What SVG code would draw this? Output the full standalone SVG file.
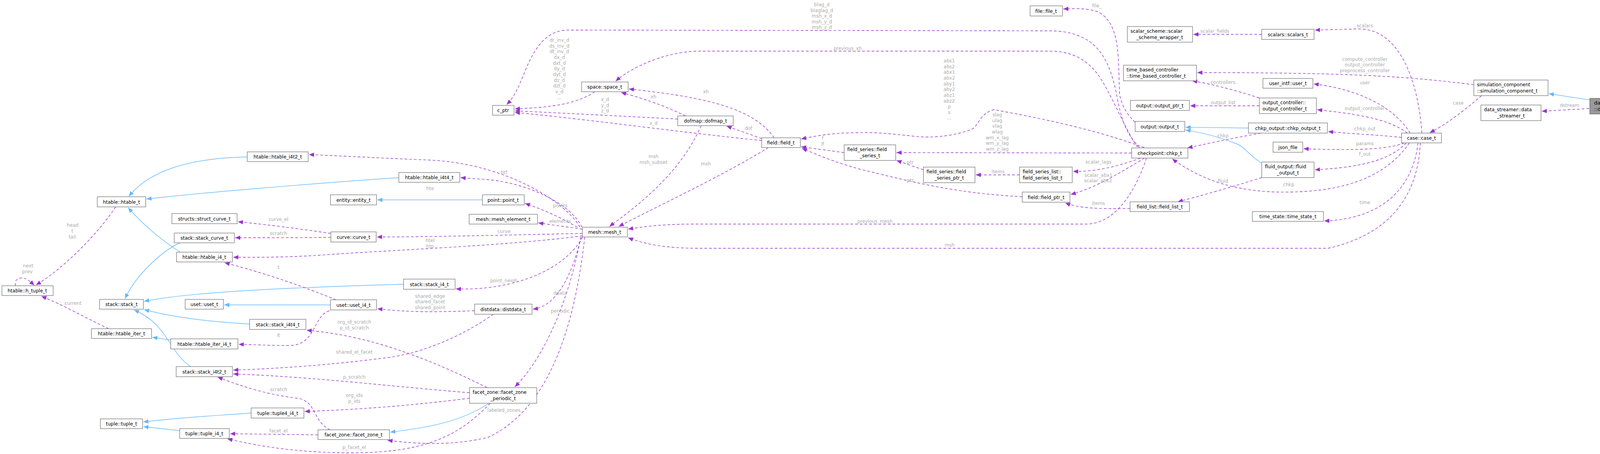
<svg xmlns="http://www.w3.org/2000/svg" width="4280" height="1163" viewBox="0 0 4280 1163">
<style>
.n rect{fill:#fff;stroke:#777;stroke-width:1.3}
.n text{font-family:"DejaVu Sans",sans-serif;font-size:12px;fill:#000;text-anchor:middle}
.n text.s{text-anchor:start}
.hl rect{fill:#999;stroke:#666}
.u{fill:none;stroke:#9a32cd;stroke-width:1.4;stroke-dasharray:7,5;marker-end:url(#pa)}
.i{fill:none;stroke:#63b8ff;stroke-width:1.4;marker-end:url(#ba)}
.l{font-family:"DejaVu Sans",sans-serif;font-size:12px;fill:#aaa;text-anchor:middle}
</style>
<defs>
<marker id="pa" markerUnits="userSpaceOnUse" markerWidth="14" markerHeight="11" refX="13" refY="5.5" orient="auto"><path d="M0,0 L13,5.5 L0,11 z" fill="#9a32cd"/></marker>
<marker id="ba" markerUnits="userSpaceOnUse" markerWidth="14" markerHeight="11" refX="13" refY="5.5" orient="auto"><path d="M0,0 L13,5.5 L0,11 z" fill="#63b8ff"/></marker>
</defs>
<rect width="4280" height="1163" fill="#fff"/>
<g id="edges">
<path class="i" d="M633,402 C480,405 380,440 330,503"/>
<path class="i" d="M1021,455 C800,470 500,495 375,510"/>
<path class="i" d="M462,646 C420,620 370,580 328,532"/>
<path class="i" d="M1235,512 L966,512"/>
<path class="i" d="M461,622 C420,640 350,700 320,765"/>
<path class="i" d="M1033,728 C800,735 500,745 369,772"/>
<path class="i" d="M639,830 C550,825 450,815 369,793"/>
<path class="i" d="M488,939 C430,900 430,830 343,794"/>
<path class="i" d="M846,781 L574,781"/>
<path class="i" d="M437,871 L390,864"/>
<path class="i" d="M643,1058 C550,1065 450,1070 367,1081"/>
<path class="i" d="M460,1103 L367,1093"/>
<path class="i" d="M1252,1033 C1180,1080 1100,1095 999,1107"/>
<path class="i" d="M3196,328 L3035,326"/>
<path class="i" d="M3230,418 C3200,400 3190,380 3170,370 C3120,350 3080,340 3035,333"/>
<path class="i" d="M4070,256 L3965,240"/>
<path class="u" d="M40,732 C36,720 44,712 55,712 C68,712 74,718 88,731"/>
<path class="u" d="M296,530 C250,600 160,690 92,730"/>
<path class="u" d="M278,842 C220,815 160,780 106,759"/>
<path class="u" d="M1485,582 C1450,520 1300,420 1100,410 C950,404 850,398 791,396"/>
<path class="u" d="M1490,582 C1460,520 1350,470 1250,460 C1220,458 1200,457 1179,455"/>
<path class="u" d="M1478,582 C1440,560 1400,540 1344,521"/>
<path class="u" d="M1491,587 L1378,571"/>
<path class="u" d="M1491,598 C1300,602 1100,607 965,607"/>
<path class="u" d="M1491,604 C1300,630 1000,640 800,655 C700,660 650,659 597,659"/>
<path class="u" d="M847,598 C760,585 680,575 609,568"/>
<path class="u" d="M847,608 C760,609 680,609 602,609"/>
<path class="u" d="M860,768 C780,735 680,700 575,673"/>
<path class="u" d="M843,796 C800,810 810,885 740,885 C690,885 650,883 611,882"/>
<path class="u" d="M1492,607 C1440,700 1300,745 1167,740"/>
<path class="u" d="M1215,796 C1100,800 1050,800 966,791"/>
<path class="u" d="M1488,607 C1460,720 1420,785 1364,792"/>
<path class="u" d="M1263,805 C1200,850 1100,900 1000,915 C850,935 700,945 597,948"/>
<path class="u" d="M1247,993 C1100,920 950,860 785,846"/>
<path class="u" d="M1202,1006 C1000,990 800,965 597,958"/>
<path class="u" d="M845,1101 C800,1080 810,1025 760,1020 C680,1010 620,990 557,966"/>
<path class="u" d="M1202,1020 C1050,1040 900,1050 780,1054"/>
<path class="u" d="M814,1114 L589,1111"/>
<path class="u" d="M1255,1033 C1180,1110 1100,1160 900,1160 C750,1160 650,1140 582,1124"/>
<path class="u" d="M1487,607 C1450,800 1380,930 1318,991"/>
<path class="u" d="M1497,607 C1470,850 1400,1050 1250,1120 C1150,1145 1050,1135 992,1128"/>
<path class="u" d="M1523,235 C1470,270 1400,275 1318,279"/>
<path class="u" d="M1735,305 C1600,298 1450,290 1318,284"/>
<path class="u" d="M1950,360 C1750,340 1500,305 1318,288"/>
<path class="u" d="M2917,378 C2880,340 2870,300 2860,250 C2840,140 2800,80 2688,79 L1460,77 C1400,75 1370,120 1345,180 C1325,230 1315,250 1297,268"/>
<path class="u" d="M1755,297 C1700,270 1640,250 1590,237"/>
<path class="u" d="M1982,353 C1930,280 1820,250 1610,228"/>
<path class="u" d="M1950,355 L1860,323"/>
<path class="u" d="M2912,377 C2880,330 2840,230 2810,190 C2780,150 2740,131 2688,131 L1782,131 C1700,135 1620,170 1576,208"/>
<path class="u" d="M1795,322 C1760,400 1700,480 1560,580"/>
<path class="u" d="M1967,378 C1850,450 1700,520 1584,580"/>
<path class="u" d="M2161,391 L2051,376"/>
<path class="u" d="M2617,504 C2450,495 2350,470 2200,433 C2120,410 2090,395 2053,380"/>
<path class="u" d="M2929,378 C2800,330 2650,300 2544,281 C2510,290 2505,320 2490,330 C2440,350 2380,355 2332,348 C2280,343 2240,338 2200,340 C2130,340 2090,348 2051,356"/>
<path class="u" d="M2364,435 L2295,411"/>
<path class="u" d="M2897,392 L2295,391"/>
<path class="u" d="M2610,448 L2498,448"/>
<path class="u" d="M2920,405 C2850,430 2800,440 2747,439"/>
<path class="u" d="M2930,405 C2870,440 2810,480 2741,498"/>
<path class="u" d="M2893,534 C2800,536 2760,532 2727,520"/>
<path class="u" d="M2935,405 C2910,480 2860,574 2780,574 L1780,574 C1700,574 1650,580 1608,587"/>
<path class="u" d="M2906,313 C2890,300 2870,270 2866,240 C2862,150 2870,60 2810,30 C2780,20 2750,22 2722,23"/>
<path class="u" d="M3230,88 L3055,88"/>
<path class="u" d="M3773,217 C3600,195 3450,186 3065,186"/>
<path class="u" d="M3224,251 C3160,230 3100,215 3052,207"/>
<path class="u" d="M3224,271 L3047,271"/>
<path class="u" d="M3228,341 C3150,355 3080,370 3040,379"/>
<path class="u" d="M3230,455 C3150,480 3080,500 3015,517"/>
<path class="u" d="M3640,341 C3630,200 3580,75 3480,74 L3366,77"/>
<path class="u" d="M3610,341 C3560,260 3450,225 3363,215"/>
<path class="u" d="M3603,341 C3550,300 3450,290 3372,281"/>
<path class="u" d="M3588,352 C3520,345 3450,342 3400,337"/>
<path class="u" d="M3595,366 C3550,385 3450,385 3337,381"/>
<path class="u" d="M3600,366 C3550,420 3450,430 3366,435"/>
<path class="u" d="M3608,366 C3550,450 3450,490 3300,492 C3150,495 3060,450 3001,407"/>
<path class="u" d="M3630,366 C3620,460 3560,560 3390,566"/>
<path class="u" d="M3636,366 C3630,500 3560,600 3400,636 L1790,636 C1700,636 1650,625 1608,609"/>
<path class="u" d="M3793,245 C3740,290 3700,320 3660,340"/>
<path class="u" d="M4068,278 L3947,285"/>
</g>
<g id="labels">
<text class="l" x="72" y="685">next</text><text class="l" x="70" y="700">prev</text>
<text class="l" x="186" y="581">head</text><text class="l" x="185" y="596">t</text><text class="l" x="185" y="611">tail</text>
<text class="l" x="187" y="781">current</text>
<text class="l" x="1101" y="487">hte</text>
<text class="l" x="1290" y="446">htf</text>
<text class="l" x="1434" y="531">points</text>
<text class="l" x="1434" y="571">elements</text>
<text class="l" x="1290" y="597">curve</text>
<text class="l" x="1101" y="620">htel</text><text class="l" x="1101" y="635">htp</text>
<text class="l" x="713" y="566">curve_el</text>
<text class="l" x="713" y="602">scratch</text>
<text class="l" x="713" y="689">t</text>
<text class="l" x="713" y="863">it</text>
<text class="l" x="1290" y="723">point_neigh</text>
<text class="l" x="1101" y="763">shared_edge</text><text class="l" x="1101" y="777">shared_facet</text><text class="l" x="1101" y="792">shared_point</text>
<text class="l" x="1434" y="755">ddata</text>
<text class="l" x="1434" y="801">periodic</text>
<text class="l" x="907" y="906">shared_el_facet</text>
<text class="l" x="907" y="829">org_id_scratch</text><text class="l" x="907" y="844">p_id_scratch</text>
<text class="l" x="907" y="970">p_scratch</text>
<text class="l" x="713" y="1002">scratch</text>
<text class="l" x="907" y="1017">org_ids</text><text class="l" x="907" y="1032">p_ids</text>
<text class="l" x="713" y="1108">facet_el</text>
<text class="l" x="907" y="1150">p_facet_el</text>
<text class="l" x="1290" y="1055">labeled_zones</text>
<g><text class="l" x="1432" y="107">dr_inv_d</text><text class="l" x="1432" y="122">ds_inv_d</text><text class="l" x="1432" y="136">dt_inv_d</text><text class="l" x="1432" y="151">dx_d</text><text class="l" x="1432" y="166">dxt_d</text><text class="l" x="1432" y="180">dy_d</text><text class="l" x="1432" y="195">dyt_d</text><text class="l" x="1432" y="210">dz_d</text><text class="l" x="1432" y="224">dzt_d</text><text class="l" x="1432" y="239">v_d</text><text class="l" x="1432" y="254">...</text></g>
<text class="l" x="1549" y="259">x_d</text><text class="l" x="1549" y="274">y_d</text><text class="l" x="1549" y="288">z_d</text>
<text class="l" x="1673" y="320">x_d</text>
<text class="l" x="1673" y="252">xh</text>
<text class="l" x="1807" y="239">xh</text>
<text class="l" x="1916" y="333">dof</text>
<text class="l" x="1673" y="405">msh</text><text class="l" x="1673" y="420">msh_subset</text>
<text class="l" x="1807" y="424">msh</text>
<text class="l" x="2104" y="16">blag_d</text><text class="l" x="2104" y="31">blaglag_d</text><text class="l" x="2104" y="45">msh_x_d</text><text class="l" x="2104" y="60">msh_y_d</text><text class="l" x="2104" y="74">msh_z_d</text>
<text class="l" x="2170" y="128">previous_xh</text>
<g><text class="l" x="2430" y="160">abs1</text><text class="l" x="2430" y="175">abs2</text><text class="l" x="2430" y="189">abx1</text><text class="l" x="2430" y="204">abx2</text><text class="l" x="2430" y="219">aby1</text><text class="l" x="2430" y="233">aby2</text><text class="l" x="2430" y="248">abz1</text><text class="l" x="2430" y="263">abz2</text><text class="l" x="2430" y="277">p</text><text class="l" x="2430" y="292">s</text><text class="l" x="2430" y="306">...</text></g>
<g><text class="l" x="2553" y="298">slag</text><text class="l" x="2553" y="313">ulag</text><text class="l" x="2553" y="327">vlag</text><text class="l" x="2553" y="342">wlag</text><text class="l" x="2553" y="357">wm_x_lag</text><text class="l" x="2553" y="371">wm_y_lag</text><text class="l" x="2553" y="386">wm_z_lag</text></g>
<text class="l" x="2106" y="358">f</text><text class="l" x="2106" y="373">lf</text>
<text class="l" x="2330" y="420">ptr</text>
<text class="l" x="2330" y="466">ptr</text>
<text class="l" x="2555" y="444">items</text>
<text class="l" x="2812" y="419">scalar_lags</text>
<text class="l" x="2812" y="453">scalar_abx1</text><text class="l" x="2811" y="467">scalar_abx2</text>
<text class="l" x="2812" y="525">items</text>
<text class="l" x="2240" y="571">previous_mesh</text>
<text class="l" x="2431" y="632">msh</text>
<text class="l" x="2808" y="19">file_</text>
<text class="l" x="3110" y="84">scalar_fields</text>
<text class="l" x="3131" y="215">controllers</text>
<text class="l" x="3131" y="267">output_list</text>
<text class="l" x="3131" y="352">chkp</text>
<text class="l" x="3131" y="468">fluid</text>
<text class="l" x="3494" y="70">scalars</text>
<text class="l" x="3494" y="156">compute_controller</text><text class="l" x="3494" y="170">output_controller</text><text class="l" x="3494" y="185">preprocess_controller</text>
<text class="l" x="3494" y="216">user</text>
<text class="l" x="3494" y="282">output_controller</text>
<text class="l" x="3494" y="334">chkp_out</text>
<text class="l" x="3494" y="372">params</text>
<text class="l" x="3494" y="399">f_out</text>
<text class="l" x="3299" y="477">chkp</text>
<text class="l" x="3494" y="523">time</text>
<text class="l" x="3733" y="268">case</text>
<text class="l" x="4018" y="274">dstream</text>
</g>
<g id="n_h_tuple" class="n"><rect x="5" y="732" width="131" height="25"/><text x="70" y="749">htable::h_tuple_t</text></g>
<g id="n_htable" class="n"><rect x="249" y="504" width="124" height="26"/><text x="311" y="522">htable::htable_t</text></g>
<g id="n_htable_i4t2" class="n"><rect x="633" y="389" width="156" height="25"/><text x="711" y="406">htable::htable_i4t2_t</text></g>
<g id="n_htable_i4t4" class="n"><rect x="1021" y="442" width="156" height="25"/><text x="1099" y="459">htable::htable_i4t4_t</text></g>
<g id="n_htable_i4" class="n"><rect x="452" y="646" width="143" height="25"/><text x="523" y="663">htable::htable_i4_t</text></g>
<g id="n_struct_curve" class="n"><rect x="440" y="547" width="167" height="26"/><text x="523" y="565">structs::struct_curve_t</text></g>
<g id="n_stack_curve" class="n"><rect x="446" y="597" width="154" height="25"/><text x="523" y="614">stack::stack_curve_t</text></g>
<g id="n_entity" class="n"><rect x="846" y="499" width="118" height="26"/><text x="905" y="517">entity::entity_t</text></g>
<g id="n_point" class="n"><rect x="1235" y="499" width="107" height="26"/><text x="1288" y="517">point::point_t</text></g>
<g id="n_mesh_element" class="n"><rect x="1201" y="549" width="175" height="25"/><text x="1288" y="566">mesh::mesh_element_t</text></g>
<g id="n_curve" class="n"><rect x="847" y="594" width="116" height="26"/><text x="905" y="612">curve::curve_t</text></g>
<g id="n_mesh" class="n"><rect x="1491" y="582" width="115" height="25"/><text x="1548" y="599">mesh::mesh_t</text></g>
<g id="n_stack" class="n"><rect x="255" y="767" width="112" height="25"/><text x="311" y="784">stack::stack_t</text></g>
<g id="n_uset" class="n"><rect x="474" y="767" width="98" height="25"/><text x="523" y="784">uset::uset_t</text></g>
<g id="n_stack_i4" class="n"><rect x="1033" y="715" width="132" height="26"/><text x="1099" y="733">stack::stack_i4_t</text></g>
<g id="n_uset_i4" class="n"><rect x="846" y="768" width="118" height="26"/><text x="905" y="786">uset::uset_i4_t</text></g>
<g id="n_distdata" class="n"><rect x="1215" y="779" width="147" height="26"/><text x="1288" y="797">distdata::distdata_t</text></g>
<g id="n_stack_i4t4" class="n"><rect x="639" y="818" width="144" height="26"/><text x="711" y="836">stack::stack_i4t4_t</text></g>
<g id="n_htable_iter" class="n"><rect x="234" y="842" width="154" height="25"/><text x="311" y="859">htable::htable_iter_t</text></g>
<g id="n_htable_iter_i4" class="n"><rect x="437" y="868" width="172" height="26"/><text x="523" y="886">htable::htable_iter_i4_t</text></g>
<g id="n_stack_i4t2" class="n"><rect x="451" y="939" width="144" height="26"/><text x="523" y="957">stack::stack_i4t2_t</text></g>
<g id="n_fzp" class="n"><rect x="1202" y="993" width="172" height="40"/><text class="s" x="1210" y="1009">facet_zone::facet_zone</text><text x="1288" y="1025">_periodic_t</text></g>
<g id="n_tuple4_i4" class="n"><rect x="643" y="1045" width="135" height="26"/><text x="711" y="1063">tuple::tuple4_i4_t</text></g>
<g id="n_tuple" class="n"><rect x="257" y="1073" width="108" height="25"/><text x="311" y="1090">tuple::tuple_t</text></g>
<g id="n_tuple_i4" class="n"><rect x="460" y="1098" width="127" height="25"/><text x="523" y="1115">tuple::tuple_i4_t</text></g>
<g id="n_facet_zone" class="n"><rect x="814" y="1101" width="183" height="25"/><text x="905" y="1118">facet_zone::facet_zone_t</text></g>
<g id="n_c_ptr" class="n"><rect x="1261" y="270" width="55" height="25"/><text x="1288" y="287">c_ptr</text></g>
<g id="n_space" class="n"><rect x="1489" y="210" width="119" height="25"/><text x="1548" y="227">space::space_t</text></g>
<g id="n_dofmap" class="n"><rect x="1735" y="297" width="142" height="25"/><text x="1806" y="314">dofmap::dofmap_t</text></g>
<g id="n_field" class="n"><rect x="1950" y="353" width="99" height="25"/><text x="1999" y="370">field::field_t</text></g>
<g id="n_field_series" class="n"><rect x="2161" y="371" width="132" height="40"/><text class="s" x="2169" y="387">field_series::field</text><text x="2227" y="403">_series_t</text></g>
<g id="n_field_series_ptr" class="n"><rect x="2364" y="428" width="132" height="40"/><text class="s" x="2372" y="444">field_series::field</text><text x="2430" y="460">_series_ptr_t</text></g>
<g id="n_field_series_list" class="n"><rect x="2610" y="428" width="135" height="40"/><text class="s" x="2618" y="444">field_series_list::</text><text class="s" x="2618" y="460">field_series_list_t</text></g>
<g id="n_field_ptr" class="n"><rect x="2617" y="492" width="122" height="26"/><text x="2678" y="510">field::field_ptr_t</text></g>
<g id="n_file" class="n"><rect x="2637" y="15" width="83" height="26"/><text x="2678" y="33">file::file_t</text></g>
<g id="n_chkp" class="n"><rect x="2897" y="379" width="144" height="26"/><text x="2969" y="397">checkpoint::chkp_t</text></g>
<g id="n_field_list" class="n"><rect x="2893" y="517" width="152" height="25"/><text x="2969" y="534">field_list::field_list_t</text></g>
<g id="n_output" class="n"><rect x="2906" y="311" width="127" height="26"/><text x="2969" y="329">output::output_t</text></g>
<g id="n_output_ptr" class="n"><rect x="2894" y="257" width="151" height="26"/><text x="2969" y="275">output::output_ptr_t</text></g>
<g id="n_tbc" class="n"><rect x="2876" y="167" width="187" height="40"/><text class="s" x="2884" y="183">time_based_controller</text><text class="s" x="2884" y="199">::time_based_controller_t</text></g>
<g id="n_ssw" class="n"><rect x="2886" y="68" width="167" height="40"/><text class="s" x="2894" y="84">scalar_scheme::scalar</text><text x="2969" y="100">_scheme_wrapper_t</text></g>
<g id="n_scalars" class="n"><rect x="3230" y="75" width="134" height="26"/><text x="3297" y="93">scalars::scalars_t</text></g>
<g id="n_user" class="n"><rect x="3233" y="201" width="128" height="25"/><text x="3297" y="218">user_intf::user_t</text></g>
<g id="n_output_controller" class="n"><rect x="3224" y="251" width="146" height="40"/><text class="s" x="3232" y="267">output_controller::</text><text class="s" x="3232" y="283">output_controller_t</text></g>
<g id="n_chkp_output" class="n"><rect x="3196" y="315" width="202" height="26"/><text x="3297" y="333">chkp_output::chkp_output_t</text></g>
<g id="n_json_file" class="n"><rect x="3259" y="364" width="76" height="26"/><text x="3297" y="382">json_file</text></g>
<g id="n_fluid_output" class="n"><rect x="3230" y="415" width="134" height="40"/><text class="s" x="3238" y="431">fluid_output::fluid</text><text x="3297" y="447">_output_t</text></g>
<g id="n_time_state" class="n"><rect x="3206" y="542" width="182" height="25"/><text x="3297" y="559">time_state::time_state_t</text></g>
<g id="n_case" class="n"><rect x="3588" y="341" width="102" height="25"/><text x="3639" y="358">case::case_t</text></g>
<g id="n_sim_comp" class="n"><rect x="3773" y="205" width="190" height="40"/><text class="s" x="3781" y="221">simulation_component</text><text class="s" x="3781" y="237">::simulation_component_t</text></g>
<g id="n_data_streamer" class="n"><rect x="3791" y="269" width="154" height="40"/><text class="s" x="3799" y="285">data_streamer::data</text><text x="3868" y="301">_streamer_t</text></g>
<g id="n_ds_simcomp" class="n hl"><rect x="4070" y="252" width="204" height="40"/><text class="s" x="4081" y="268" textLength="160" lengthAdjust="spacingAndGlyphs">data_streamer_simcomp</text><text class="s" x="4081" y="284" textLength="182" lengthAdjust="spacingAndGlyphs">::data_streamer_simcomp_t</text></g>
</svg>
